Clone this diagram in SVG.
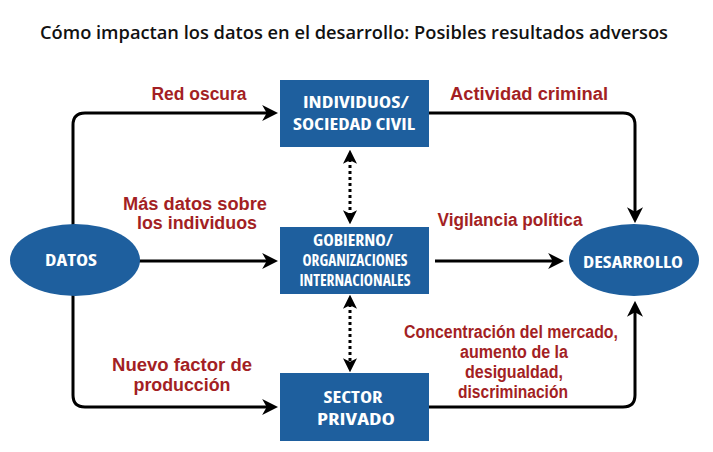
<svg xmlns="http://www.w3.org/2000/svg" width="713" height="452" viewBox="0 0 713 452">
<style>
.title{font-family:"Open Sans","Liberation Sans",Arial,sans-serif;font-weight:600;font-size:18px;fill:#111;}
.lbl{font-family:"Liberation Sans",Arial,sans-serif;font-weight:bold;font-size:18px;fill:#a31f24;text-anchor:middle;}
.nt{font-family:"Open Sans","Liberation Sans",Arial,sans-serif;font-weight:700;font-stretch:condensed;font-size:16px;fill:#fff;text-anchor:middle;}
.box{fill:#1e5f9e;}
.conn{fill:none;stroke:#000;stroke-width:3;}
.dot{fill:none;stroke:#000;stroke-width:3;stroke-dasharray:3 3;}
</style>
<defs>
<marker id="ah" markerUnits="userSpaceOnUse" markerWidth="16" markerHeight="16" viewBox="0 0 14 14" refX="6" refY="7" orient="auto-start-reverse">
<path d="M0,0 L14,7 L0,14 L4,7 z" fill="#000"/>
</marker>
<marker id="dh" markerUnits="userSpaceOnUse" markerWidth="14" markerHeight="14" viewBox="0 0 12 12" refX="4" refY="6" orient="auto-start-reverse">
<path d="M0,0 L12,6 L0,12 L3,6 z" fill="#000"/>
</marker>
</defs>
<rect width="713" height="452" fill="#fff"/>
<text class="title" x="354" y="39" text-anchor="middle" textLength="628" lengthAdjust="spacingAndGlyphs">Cómo impactan los datos en el desarrollo: Posibles resultados adversos</text>

<g id="connectors">
<path class="conn" d="M73,226 V125 Q73,113 85,113 H269" marker-end="url(#ah)"/>
<path class="conn" d="M139,261 H269" marker-end="url(#ah)"/>
<path class="conn" d="M73,295 V395 Q73,407 85,407 H269" marker-end="url(#ah)"/>
<path class="conn" d="M429,113 H623 Q635,113 635,125 V214" marker-end="url(#ah)"/>
<path class="conn" d="M435,261 H555" marker-end="url(#ah)"/>
<path class="conn" d="M429,407 H623 Q635,407 635,395 V310" marker-end="url(#ah)"/>
<path class="dot" d="M350,159 V215" marker-start="url(#dh)" marker-end="url(#dh)"/>
<path class="dot" d="M350,304 V363" marker-start="url(#dh)" marker-end="url(#dh)"/>
</g>

<g id="labels">
<text class="lbl" x="199" y="100" textLength="95" lengthAdjust="spacingAndGlyphs">Red oscura</text>
<text class="lbl" x="529" y="100" textLength="158" lengthAdjust="spacingAndGlyphs">Actividad criminal</text>
<text class="lbl" x="195" y="210" textLength="144" lengthAdjust="spacingAndGlyphs">Más datos sobre</text>
<text class="lbl" x="197" y="229" textLength="120" lengthAdjust="spacingAndGlyphs">los individuos</text>
<text class="lbl" x="510" y="226" textLength="145" lengthAdjust="spacingAndGlyphs">Vigilancia política</text>
<text class="lbl" x="182" y="371" textLength="140" lengthAdjust="spacingAndGlyphs">Nuevo factor de</text>
<text class="lbl" x="182" y="391" textLength="97" lengthAdjust="spacingAndGlyphs">producción</text>
<text class="lbl" x="511" y="338" font-size="17" textLength="214" lengthAdjust="spacingAndGlyphs">Concentración del mercado,</text>
<text class="lbl" x="514" y="358" font-size="17" textLength="108" lengthAdjust="spacingAndGlyphs">aumento de la</text>
<text class="lbl" x="514" y="378" font-size="17" textLength="98" lengthAdjust="spacingAndGlyphs">desigualdad,</text>
<text class="lbl" x="513" y="398" font-size="17" textLength="110" lengthAdjust="spacingAndGlyphs">discriminación</text>
</g>

<g id="datos">
<ellipse class="box" cx="75" cy="260" rx="65" ry="36"/>
<text class="nt" x="71" y="266" textLength="52" lengthAdjust="spacingAndGlyphs">DATOS</text>
</g>
<g id="individuos">
<rect class="box" x="280" y="80" width="149" height="67"/>
<text class="nt" x="356" y="108" textLength="106" lengthAdjust="spacingAndGlyphs">INDIVIDUOS/</text>
<text class="nt" x="354" y="130" textLength="122" lengthAdjust="spacingAndGlyphs">SOCIEDAD CIVIL</text>
</g>
<g id="gobierno">
<rect class="box" x="280" y="227" width="149" height="67"/>
<text class="nt" x="353" y="246" textLength="80" lengthAdjust="spacingAndGlyphs">GOBIERNO/</text>
<text class="nt" x="355" y="266" textLength="105" lengthAdjust="spacingAndGlyphs">ORGANIZACIONES</text>
<text class="nt" x="355" y="286" textLength="111" lengthAdjust="spacingAndGlyphs">INTERNACIONALES</text>
</g>
<g id="sector">
<rect class="box" x="280" y="373" width="149" height="68"/>
<text class="nt" x="353" y="403" textLength="59" lengthAdjust="spacingAndGlyphs">SECTOR</text>
<text class="nt" x="356" y="425" textLength="78" lengthAdjust="spacingAndGlyphs">PRIVADO</text>
</g>
<g id="desarrollo">
<ellipse class="box" cx="634" cy="260" rx="65" ry="36"/>
<text class="nt" x="633" y="268" textLength="100" lengthAdjust="spacingAndGlyphs">DESARROLLO</text>
</g>
</svg>
